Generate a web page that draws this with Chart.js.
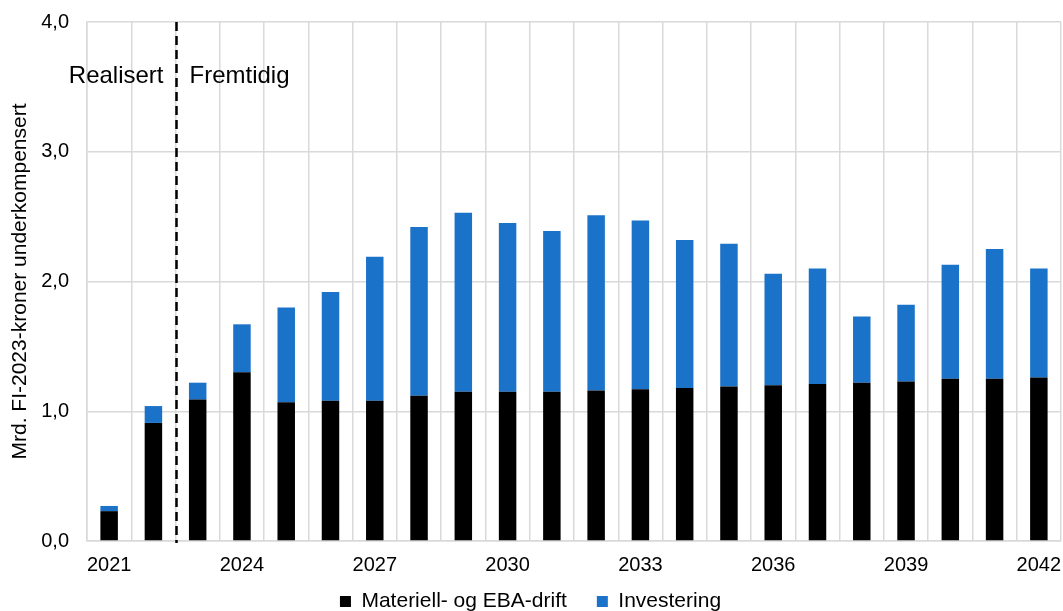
<!DOCTYPE html>
<html lang="no">
<head>
  <meta charset="UTF-8">
  <title>Underkompensert vedlikehold</title>
  <script src="https://cdn.jsdelivr.net/npm/chart.js"></script>
  <style>
    html, body { margin: 0; padding: 0; background: #fff; }
    #wrap { width: 1063px; height: 611px; position: relative; }
  </style>
</head>
<body>
  <div id="wrap"><canvas id="grafikk"></canvas></div>

  <script>
    const aar = ['2021', '2022', '2023', '2024', '2025', '2026', '2027', '2028', '2029', '2030', '2031',
                 '2032', '2033', '2034', '2035', '2036', '2037', '2038', '2039', '2040', '2041', '2042'];

    // Mrd. kroner per år
    const drift = [0.23, 0.91, 1.09, 1.30, 1.07, 1.08, 1.08, 1.12, 1.15, 1.15, 1.15,
                   1.16, 1.17, 1.18, 1.19, 1.20, 1.21, 1.22, 1.23, 1.25, 1.25, 1.26];
    const investering = [0.04, 0.13, 0.13, 0.37, 0.73, 0.84, 1.11, 1.30, 1.38, 1.30, 1.24,
                         1.35, 1.30, 1.14, 1.10, 0.86, 0.89, 0.51, 0.59, 0.88, 1.00, 0.84];

    const yTicks = [0, 1, 2, 3, 4];
    const skille = 1.5; // mellom 2022 og 2023
    const FONT = '"Liberation Sans", Arial, sans-serif';
    const GRID = '#d9d9d9';

    // stiplet linje og tekst for realisert / fremtidig
    const skillelinje = {
      id: 'skillelinje',
      afterDatasetsDraw(chart) {
        const { ctx, chartArea, scales } = chart;
        const x = Math.round(scales.x.getPixelForValue(skille)) + 0.5;
        ctx.save();
        ctx.strokeStyle = '#000';
        ctx.lineWidth = 2.5;
        ctx.setLineDash([9, 5]);
        ctx.beginPath();
        ctx.moveTo(x, chartArea.top);
        ctx.lineTo(x, chartArea.bottom + 2);
        ctx.stroke();
        ctx.setLineDash([]);
        ctx.fillStyle = '#000';
        ctx.font = '24px ' + FONT;
        ctx.textBaseline = 'middle';
        const y = scales.y.getPixelForValue(3.58);
        ctx.textAlign = 'right';
        ctx.fillText('Realisert', x - 13, y);
        ctx.textAlign = 'left';
        ctx.fillText('Fremtidig', x + 13, y);
        ctx.restore();
      }
    };

    // legenden får lavere boks, x-aksen får plass til etikettene
    const plassering = {
      id: 'plassering',
      beforeLayout(chart) {
        const lg = chart.legend;
        if (lg && !lg._fitWrapped) {
          const fit = lg.fit.bind(lg);
          lg.fit = function () { fit(); this.height = 50; };
          lg._fitWrapped = true;
        }
      },
      afterLayout(chart) {
        const x = chart.scales.x;
        x.bottom = x.top + 45;
      }
    };

    const ctx = document.getElementById('grafikk').getContext('2d');
    new Chart(ctx, {
      type: 'bar',
      data: {
        labels: aar,
        datasets: [
          {
            label: 'Materiell- og EBA-drift',
            data: drift,
            backgroundColor: '#000000',
            barPercentage: 0.395,
            categoryPercentage: 1
          },
          {
            label: 'Investering',
            data: investering,
            backgroundColor: '#1b72c9',
            barPercentage: 0.395,
            categoryPercentage: 1
          }
        ]
      },
      options: {
        responsive: true,
        maintainAspectRatio: false,
        animation: false,
        layout: { padding: { top: 22, right: 2, left: 0, bottom: 0 } },
        plugins: {
          legend: {
            position: 'bottom',
            labels: {
              color: '#000',
              font: { family: FONT, size: 21 },
              boxWidth: 11,
              boxHeight: 11,
              padding: 30
            }
          },
          tooltip: { enabled: false }
        },
        scales: {
          x: {
            stacked: true,
            grid: { color: GRID, lineWidth: 1.5, drawTicks: false, offset: true },
            border: { color: GRID, width: 1.5 },
            ticks: {
              color: '#000',
              font: { family: FONT, size: 20 },
              autoSkip: false,
              maxRotation: 0,
              padding: 12,
              callback: (v, i) => (i % 3 === 0 ? aar[i] : '')
            },
            afterFit(s) {
              s.height = 20;
              s.paddingLeft = 0;
              s.paddingRight = 0;
            }
          },
          y: {
            stacked: true,
            min: 0,
            max: 4,
            afterBuildTicks(s) { s.ticks = yTicks.map(v => ({ value: v })); },
            grid: { color: GRID, lineWidth: 1.5, drawTicks: false },
            border: { color: GRID, width: 1.5 },
            ticks: {
              color: '#000',
              font: { family: FONT, size: 20 },
              padding: 18,
              callback: v => v.toFixed(1).replace('.', ',')
            },
            title: {
              display: true,
              text: 'Mrd. FI-2023-kroner underkompensert',
              color: '#000',
              font: { family: FONT, size: 21 },
              padding: { top: 8, bottom: 0 }
            },
            afterFit(s) {
              s.width = 87;
              s.paddingTop = 0;
              s.paddingBottom = 0;
            }
          }
        }
      },
      plugins: [skillelinje, plassering]
    });
  </script>
</body>
</html>
